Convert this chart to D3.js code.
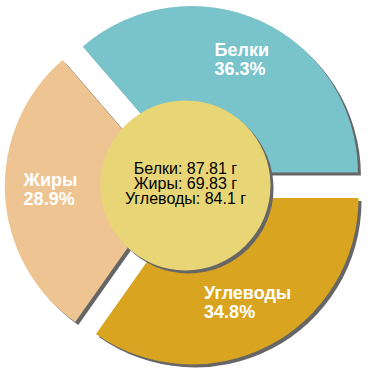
<!DOCTYPE html>
<html>
<head>
<meta charset="utf-8">
<script src="https://cdn.jsdelivr.net/npm/d3@7"></script>
<style>
  html, body { margin: 0; padding: 0; background: #fff; }
  svg { display: block; font-family: 'Liberation Sans', Arial, sans-serif; }
</style>
</head>
<body>
<svg id="chart" width="370" height="370"></svg>
<script>
// data
const names = ['Белки', 'Жиры', 'Углеводы'];
const grams = [87.81, 69.83, 84.1];
const percents = ['36.3%', '28.9%', '34.8%'];
const colors = ['#79c3cb', '#eec592', '#d9a521'];

const svg = d3.select('#chart'),
  cx = 185.5,
  cy = 185.4,
  radius = 166.5,
  explode = 14.2,
  labelR = 121,
  hubR = 85;

// slices go counter-clockwise starting at 3 o'clock
const pie = d3
  .pie()
  .sort(null)
  .startAngle(Math.PI / 2)
  .endAngle(Math.PI / 2 - 2 * Math.PI);

const arcs = pie(grams);
const arc = d3.arc().innerRadius(0).outerRadius(radius);

const offset = (d, r) => {
  const a = (d.startAngle + d.endAngle) / 2;
  return [Math.sin(a) * r, -Math.cos(a) * r];
};

const g = svg.append('g').attr('transform', `translate(${cx},${cy})`);

// shadows first
g.selectAll('path.shadow')
  .data(arcs)
  .enter()
  .append('path')
  .attr('class', 'shadow')
  .attr('d', arc)
  .attr('fill', '#666')
  .attr('transform', (d) => {
    const o = offset(d, explode);
    return `translate(${o[0] + 3},${o[1] + 3})`;
  });

g.selectAll('path.slice')
  .data(arcs)
  .enter()
  .append('path')
  .attr('class', 'slice')
  .attr('d', arc)
  .attr('fill', (d, i) => colors[i])
  .attr('transform', (d) => {
    const o = offset(d, explode);
    return `translate(${o[0]},${o[1]})`;
  });

// center circle with shadow
g.append('circle').attr('cx', 3).attr('cy', 3).attr('r', hubR).attr('fill', '#666');
g.append('circle').attr('r', hubR).attr('fill', '#e8d676');

// slice labels, left aligned block centered on the label point
arcs.forEach((d, i) => {
  const o = offset(d, explode);
  const p = offset(d, labelR);
  const x = o[0] + p[0],
    y = o[1] + p[1];
  const t = g
    .append('text')
    .attr('fill', '#fff')
    .attr('font-weight', 'bold')
    .attr('font-size', 18);
  const l1 = t.append('tspan').attr('y', y - 6).text(names[i]);
  const l2 = t.append('tspan').attr('y', y + 13).text(percents[i]);
  const w = Math.max(l1.node().getComputedTextLength(), l2.node().getComputedTextLength());
  l1.attr('x', x - w / 2);
  l2.attr('x', x - w / 2);
});

// center text
const center = g
  .append('text')
  .attr('text-anchor', 'middle')
  .attr('font-size', 16)
  .attr('fill', '#000');
names.forEach((n, i) => {
  center
    .append('tspan')
    .attr('x', 0)
    .attr('y', -11 + i * 15)
    .text(`${n}: ${grams[i]} г`);
});
</script>
</body>
</html>
